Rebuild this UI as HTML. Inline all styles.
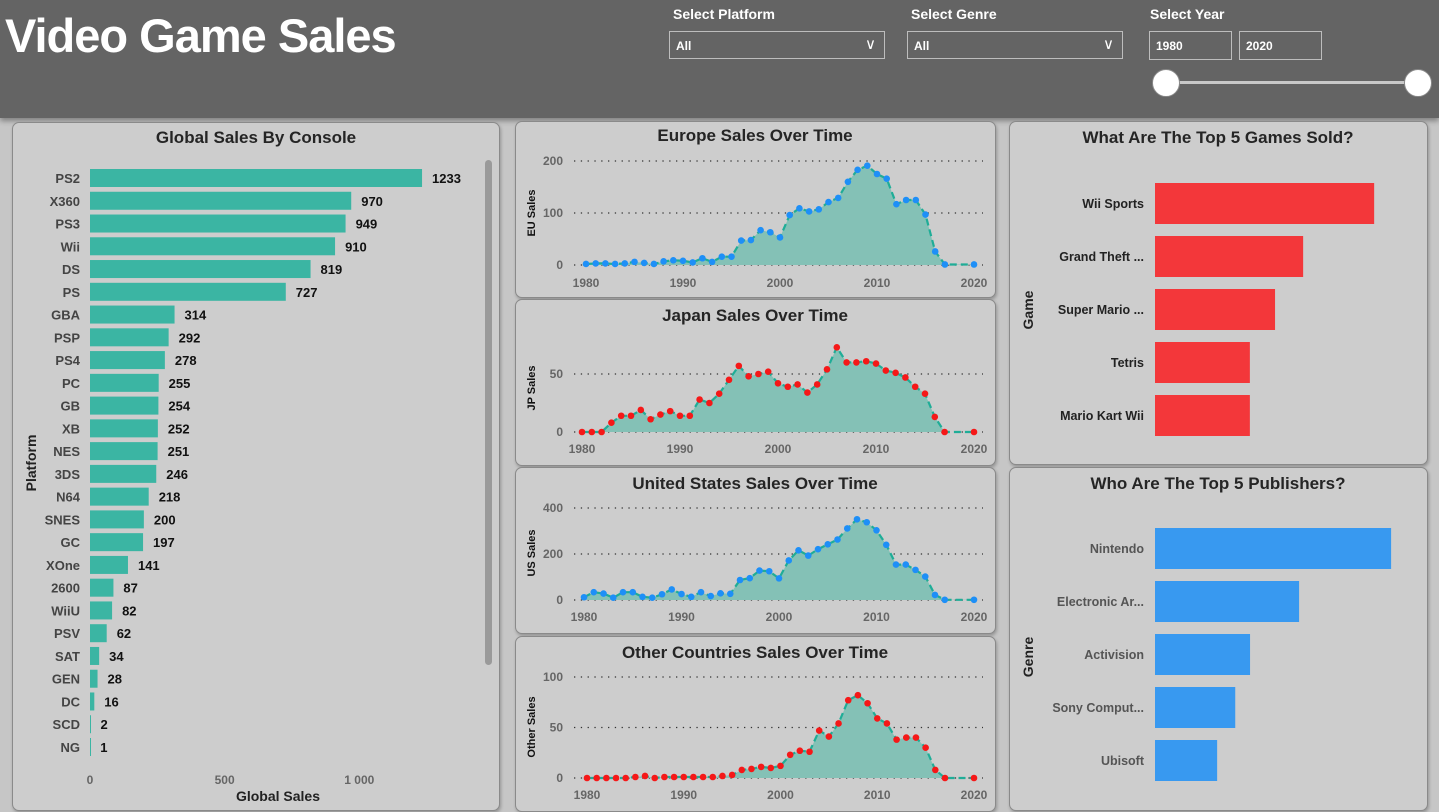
<!DOCTYPE html>
<html><head><meta charset="utf-8">
<style>
body{margin:0;width:1439px;height:812px;overflow:hidden;background:#c6c6c6;font-family:"Liberation Sans",sans-serif;position:relative}
.abs{position:absolute}
#header{left:0;top:0;width:1439px;height:118px;background:#646464;box-shadow:0 3px 5px rgba(0,0,0,.35)}
.panel{position:absolute;background:#cdcdcd;border:1px solid #8a8a8a;border-radius:7px;box-shadow:1px 2px 3px rgba(0,0,0,.25)}
.lbl{color:#fff;font-weight:bold;font-size:14px}
.dd{position:absolute;border:1px solid #bdbdbd;color:#fff;font-weight:bold;font-size:12px;box-sizing:border-box;padding:7px 6px}
svg text{font-family:"Liberation Sans",sans-serif}
</style></head><body>
<div id="header" class="abs">
 <div class="abs" style="left:5px;top:8px;font-size:47px;font-weight:bold;color:#fff;letter-spacing:-1px">Video Game Sales</div>
 <div class="abs lbl" style="left:673px;top:6px">Select Platform</div>
 <div class="dd" style="left:669px;top:31px;width:216px;height:28px">All<span style="position:absolute;right:8px;top:3px;font-weight:normal;font-size:15px">&#8744;</span></div>
 <div class="abs lbl" style="left:911px;top:6px">Select Genre</div>
 <div class="dd" style="left:907px;top:31px;width:216px;height:28px">All<span style="position:absolute;right:8px;top:3px;font-weight:normal;font-size:15px">&#8744;</span></div>
 <div class="abs lbl" style="left:1150px;top:6px">Select Year</div>
 <div class="dd" style="left:1149px;top:31px;width:83px;height:29px">1980</div>
 <div class="dd" style="left:1239px;top:31px;width:83px;height:29px">2020</div>
 <div class="abs" style="left:1166px;top:81px;width:252px;height:3px;background:#c8c8c8"></div>
 <div class="abs" style="left:1152px;top:69px;width:26px;height:26px;border-radius:50%;background:#fff;border:1px solid #888"></div>
 <div class="abs" style="left:1404px;top:69px;width:26px;height:26px;border-radius:50%;background:#fff;border:1px solid #888"></div>
</div>
<div class="panel" style="left:12px;top:122px;width:486px;height:687px"></div>
<div class="panel" style="left:515px;top:121px;width:479px;height:175px"></div>
<div class="panel" style="left:515px;top:299px;width:479px;height:165px"></div>
<div class="panel" style="left:515px;top:467px;width:479px;height:165px"></div>
<div class="panel" style="left:515px;top:636px;width:479px;height:174px"></div>
<div class="panel" style="left:1009px;top:121px;width:417px;height:342px"></div>
<div class="panel" style="left:1009px;top:467px;width:417px;height:342px"></div>
<div class="abs" style="left:485px;top:160px;width:7px;height:505px;background:#9a9a9a;border-radius:4px"></div>
<svg id="s" class="abs" style="left:0;top:0" width="1439" height="812"></svg>
<script>
const platforms=["PS2","X360","PS3","Wii","DS","PS","GBA","PSP","PS4","PC","GB","XB","NES","3DS","N64","SNES","GC","XOne","2600","WiiU","PSV","SAT","GEN","DC","SCD","NG"];
const platformSales=[1233,970,949,910,819,727,314,292,278,255,254,252,251,246,218,200,197,141,87,82,62,34,28,16,2,1];
const globalTicks=[0,500,1000];
const globalTickLabels=["0","500","1 000"];
const years=[1980,1981,1982,1983,1984,1985,1986,1987,1988,1989,1990,1991,1992,1993,1994,1995,1996,1997,1998,1999,2000,2001,2002,2003,2004,2005,2006,2007,2008,2009,2010,2011,2012,2013,2014,2015,2016,2017,2020];
const euSales=[2,3,3,2,3,6,4,2,7,9,8,5,13,6,16,16,47,48,67,63,53,96,109,103,107,121,129,160,183,191,175,166,117,125,125,97,26,1,1];
const jpSales=[0,0,0,8,14,14,19,11,15,18,14,14,28,25,33,45,57,48,50,52,42,39,41,34,41,54,73,60,60,61,59,53,51,47,39,33,13,0,0];
const usSales=[12,34,28,10,34,34,14,10,25,46,26,14,34,17,29,27,87,95,128,125,94,172,216,193,221,242,263,311,351,338,303,240,154,154,131,102,22,1,1];
const otherSales=[0,0,0,0,0,1,2,0,1,1,1,1,1,1,2,3,8,9,11,10,12,23,27,26,47,41,54,77,82,74,59,54,38,40,40,30,8,0,0];
const xTicks=[1980,1990,2000,2010,2020];
const euTicks=[0,100,200];
const jpTicks=[0,50];
const usTicks=[0,200,400];
const otherTicks=[0,50,100];
const games=["Wii Sports","Grand Theft ...","Super Mario ...","Tetris","Mario Kart Wii"];
const gameSales=[82.7,55.9,45.3,35.8,35.8];
const publishers=["Nintendo","Electronic Ar...","Activision","Sony Comput...","Ubisoft"];
const publisherSales=[1786,1090,719,607,470];

const NS="http://www.w3.org/2000/svg";
const S=document.getElementById('s');
function mk(tag,attrs,parent){const e=document.createElementNS(NS,tag);for(const k in attrs)e.setAttribute(k,attrs[k]);(parent||S).appendChild(e);return e;}
function txt(x,y,t,attrs,parent){const e=mk('text',Object.assign({x:x,y:y},attrs),parent);e.textContent=t;return e;}

// Global sales by console
txt(256,143,"Global Sales By Console",{'text-anchor':'middle','font-size':17,'font-weight':'bold',fill:'#252525'});
const gx=v=>90+v*0.2693;
const gy=i=>178+i*22.76;
platforms.forEach((p,i)=>{
  const g=mk('g',{});
  
  
  mk('rect',{x:gx(0),y:gy(i)-9,width:Math.max(1,gx(platformSales[i])-gx(0)),height:18,fill:'#3bb5a3'},g);
  txt(80,gy(i)+5,p,{'text-anchor':'end','font-size':13,'font-weight':'bold',fill:'#444'},g);
  txt(gx(platformSales[i])+10,gy(i)+5,String(platformSales[i]),{'font-size':13,'font-weight':'bold',fill:'#111'},g);
});
globalTicks.forEach((t,i)=>{txt(gx(t),784,globalTickLabels[i],{'text-anchor':'middle','font-size':12,'font-weight':'bold',fill:'#666'});});
const gt=txt(278,801,"Global Sales",{'text-anchor':'middle','font-size':14,'font-weight':'bold',fill:'#222'});

const pt=txt(0,0,"Platform",{'text-anchor':'middle','font-size':14,'font-weight':'bold',fill:'#222',transform:'translate(36,463) rotate(-90)'});


// Line charts
function lineChart(name,title,titleY,vals,ticks,y0,kPerUnit,x0,labelY,yTitle,yTitleY,dot){
  const g=mk('g',{});
  
  
  txt(755,titleY,title,{'text-anchor':'middle','font-size':17,'font-weight':'bold',fill:'#252525'},g);
  const X=yr=>x0+(yr-1980)*((974-x0)/40);
  const Y=v=>y0-v*kPerUnit;
  ticks.forEach(t=>{
    mk('line',{x1:574,x2:983,y1:Y(t),y2:Y(t),stroke:'#333','stroke-width':1.3,'stroke-dasharray':'1.3 5.5'},g);
    txt(563,Y(t)+4,String(t),{'text-anchor':'end','font-size':12,'font-weight':'bold',fill:'#666'},g);
  });
  xTicks.forEach(t=>txt(X(t),labelY,String(t),{'text-anchor':'middle','font-size':12,'font-weight':'bold',fill:'#666'},g));
  txt(0,0,yTitle,{'text-anchor':'middle','font-size':11,'font-weight':'bold',fill:'#111',transform:'translate(535,'+yTitleY+') rotate(-90)'},g);
  let d='';years.forEach((yr,i)=>{d+=(i?'L':'M')+X(yr).toFixed(1)+','+Y(vals[i]).toFixed(1);});
  mk('path',{d:d+'L'+X(2020)+','+Y(0)+'L'+X(1980)+','+Y(0)+'Z',fill:'#84c1b6'},g);
  mk('path',{d:d,fill:'none',stroke:'#1fad97','stroke-width':2.2,'stroke-dasharray':'7 4'},g);
  years.forEach((yr,i)=>{
    const c=mk('circle',{cx:X(yr),cy:Y(vals[i]),r:3.3,fill:dot},g);
    
    
  });
}
lineChart('europe-sales-chart','Europe Sales Over Time',141,euSales,euTicks,265,0.52,586,287,'EU Sales',213,'#1e8ff7');
lineChart('japan-sales-chart','Japan Sales Over Time',321,jpSales,jpTicks,432,1.16,582,453,'JP Sales',388,'#f51818');
lineChart('us-sales-chart','United States Sales Over Time',489,usSales,usTicks,600,0.23,584,621,'US Sales',553,'#1e8ff7');
lineChart('other-sales-chart','Other Countries Sales Over Time',658,otherSales,otherTicks,778,1.01,587,799,'Other Sales',727,'#f51818');

// Top bar charts
function hbar(name,title,titleY,cats,vals,scale,y0,color,labColor,yTitle,yTitleY){
  const g=mk('g',{});
  
  
  txt(1218,titleY,title,{'text-anchor':'middle','font-size':17,'font-weight':'bold',fill:'#252525'},g);
  txt(0,0,yTitle,{'text-anchor':'middle','font-size':14,'font-weight':'bold',fill:'#222',transform:'translate(1033,'+yTitleY+') rotate(-90)'},g);
  cats.forEach((c,i)=>{
    const y=y0+i*53;
    const r=mk('rect',{x:1155,y:y-20,width:vals[i]*scale,height:41,fill:color},g);
    
    
    txt(1144,y+5,c,{'text-anchor':'end','font-size':12.5,'font-weight':'bold',fill:labColor},g);
  });
}
hbar('top-games-chart','What Are The Top 5 Games Sold?',143,games,gameSales,2.65,203,'#f3373a','#222','Game',310,);
hbar('top-publishers-chart','Who Are The Top 5 Publishers?',489,publishers,publisherSales,0.1322,548,'#3899f0','#555','Genre',657);
</script>
</body></html>
